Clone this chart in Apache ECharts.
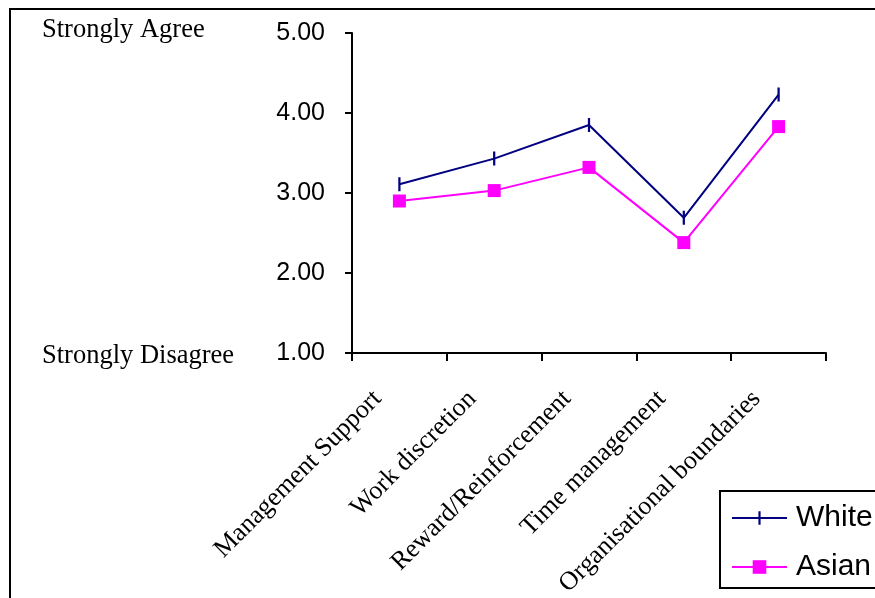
<!DOCTYPE html>
<html>
<head>
<meta charset="utf-8">
<script src="https://cdn.jsdelivr.net/npm/echarts@6/dist/echarts.min.js"></script>
<style>
  html, body { margin: 0; padding: 0; background: #fff; }
  #chart { width: 875px; height: 598px; }
</style>
</head>
<body>
<div id="chart"></div>
<script>
// Mean scores per dimension (1 = Strongly Disagree, 5 = Strongly Agree)
const categories = ['Management Support', 'Work discretion', 'Reward/Reinforcement', 'Time management', 'Organisational boundaries'];
const whiteScores = [3.11, 3.43, 3.85, 2.69, 4.23];
const asianScores = [2.90, 3.03, 3.32, 2.38, 3.83];
const seriesNames = ['White', 'Asian'];
const scaleLabels = ['Strongly Agree', 'Strongly Disagree'];

const serif = '"Times New Roman", "Liberation Serif", serif';
const sans = 'Arial, "Liberation Sans", sans-serif';

// vertical bar marker (the horizontal stub keeps the box square and is not filled)
const barMarker = 'path://M0,5L10,5M4.2,0H5.8V10H4.2Z';

const chart = echarts.init(document.getElementById('chart'), null, { renderer: 'canvas' });

chart.setOption({
  animation: false,
  backgroundColor: '#ffffff',
  grid: { left: 352, right: 49, top: 33, bottom: 245, containLabel: false, outerBoundsMode: 'none' },
  xAxis: {
    type: 'category',
    data: categories,
    boundaryGap: true,
    axisLine: { lineStyle: { color: '#000', width: 2 } },
    axisTick: { show: true, inside: false, length: 8, lineStyle: { color: '#000', width: 2 } },
    axisLabel: {
      rotate: 45,
      interval: 0,
      margin: 20,
      padding: [0, 31, 0, 0],
      color: '#000',
      fontFamily: serif,
      fontSize: 26
    },
    splitLine: { show: false }
  },
  yAxis: {
    type: 'value',
    min: 1,
    max: 5,
    interval: 1,
    axisLine: { show: true, lineStyle: { color: '#000', width: 2 } },
    axisTick: { show: true, inside: false, length: 7, lineStyle: { color: '#000', width: 2 } },
    axisLabel: {
      margin: 27,
      color: '#000',
      fontFamily: sans,
      fontSize: 25,
      padding: [4, 0, 0, 0],
      formatter: v => v.toFixed(2)
    },
    splitLine: { show: false }
  },
  legend: {
    left: 720,
    top: 491,
    orient: 'vertical',
    data: seriesNames,
    itemWidth: 55,
    itemHeight: 17,
    itemGap: 19,
    padding: [12, 30, 6, 11],
    borderColor: '#000',
    borderWidth: 2,
    backgroundColor: '#fff',
    textStyle: { color: '#000', fontFamily: sans, fontSize: 30, padding: [0, 0, 0, 4] }
  },
  graphic: [
    {
      type: 'rect',
      z: -1,
      shape: { x: 10, y: 9, width: 1000, height: 800 },
      style: { fill: 'none', stroke: '#000', lineWidth: 2 }
    },
    {
      type: 'text',
      x: 42, y: 30,
      style: { text: scaleLabels[0], fill: '#000', font: '26.5px ' + serif, verticalAlign: 'middle', align: 'left' }
    },
    {
      type: 'text',
      x: 42, y: 356,
      style: { text: scaleLabels[1], fill: '#000', font: '26.5px ' + serif, verticalAlign: 'middle', align: 'left' }
    }
  ],
  series: [
    {
      name: seriesNames[0],
      type: 'line',
      data: whiteScores,
      symbol: barMarker,
      symbolSize: 14,
      showAllSymbol: true,
      lineStyle: { color: '#000080', width: 2 },
      itemStyle: { color: '#000080', borderWidth: 0 }
    },
    {
      name: seriesNames[1],
      type: 'line',
      data: asianScores,
      symbol: 'rect',
      symbolSize: 13,
      showAllSymbol: true,
      lineStyle: { color: '#ff00ff', width: 2 },
      itemStyle: { color: '#ff00ff', borderWidth: 0 }
    }
  ]
});
</script>
</body>
</html>
